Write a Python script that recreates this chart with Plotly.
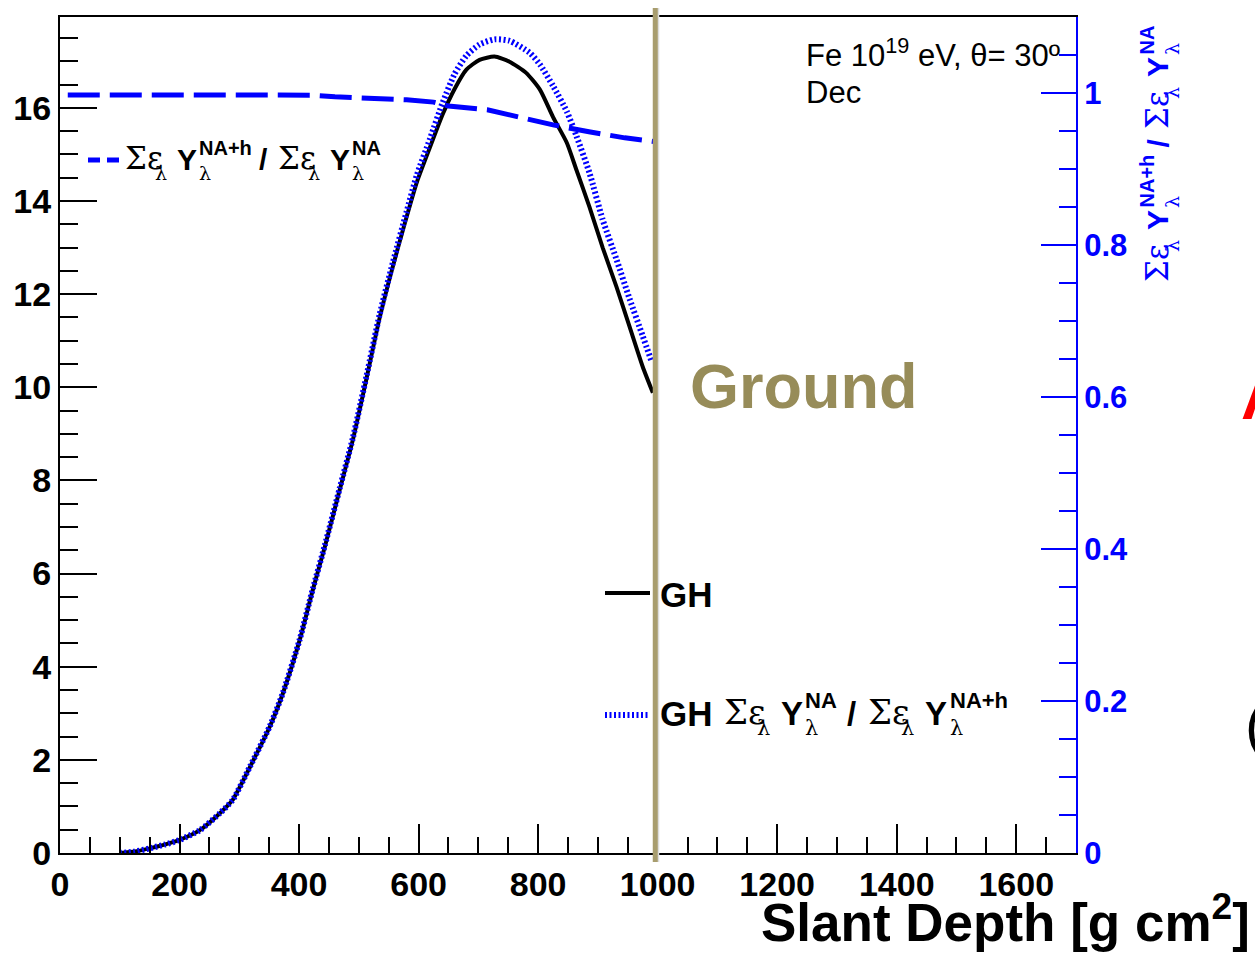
import plotly.graph_objects as go

# ---- data -------------------------------------------------------------
# Gaisser-Hillas longitudinal profile (left axis)
depth_gh = [100, 125, 150, 175, 200, 234, 268, 289, 318, 351, 373, 401, 423, 443,
            468, 490, 513, 535, 557, 580, 597, 619, 640, 660, 680, 702, 727, 752,
            780, 803, 825, 848, 864, 886, 908, 931, 953, 975, 992]
gh = [0.0, 0.03, 0.1, 0.18, 0.28, 0.49, 0.86, 1.14, 1.85, 2.71, 3.43, 4.57, 5.65, 6.57,
      7.8, 8.87, 10.2, 11.5, 12.6, 13.66, 14.4, 15.15, 15.85, 16.4, 16.82, 17.03, 17.1, 16.99,
      16.75, 16.39, 15.8, 15.25, 14.67, 13.87, 13.0, 12.16, 11.3, 10.44, 9.88]

# GH profile rescaled by the yield ratio (left axis)
depth_ghc = [100, 125, 150, 175, 200, 234, 268, 289, 318, 351, 373, 401, 423, 443,
             468, 490, 513, 535, 557, 580, 597, 619, 640, 660, 680, 702, 727, 752,
             786, 803, 825, 848, 864, 886, 908, 931, 953, 975, 990]
gh_corr = [0.0, 0.03, 0.1, 0.18, 0.28, 0.49, 0.86, 1.14, 1.86, 2.72, 3.44, 4.58, 5.67, 6.6,
           7.83, 8.91, 10.25, 11.57, 12.68, 13.77, 14.55, 15.33, 16.1, 16.72, 17.12, 17.36, 17.47, 17.44,
           17.18, 16.93, 16.47, 15.92, 15.4, 14.6, 13.6, 12.75, 11.9, 11.1, 10.55]

# yield ratio (right axis)
depth_ratio = [13, 100, 200, 300, 420, 460, 525, 580, 625, 650, 715, 770, 825, 885, 945, 996]
ratio = [0.9975, 0.9975, 0.9975, 0.9975, 0.9972, 0.995, 0.993, 0.991, 0.988, 0.983,
         0.978, 0.968, 0.958, 0.949, 0.941, 0.936]

x_ticks = [0, 200, 400, 600, 800, 1000, 1200, 1400, 1600]
ground_depth = 996

X_RANGE = [0, 1700]
Y_RANGE = [0, 17.95]
Y2_RANGE = [0, 1.1]

# ---- geometry ---------------------------------------------------------
FIG_W, FIG_H = 1255, 954
M_L, M_R, M_T, M_B = 60, 179, 17, 101
PW = FIG_W - M_L - M_R
PH = FIG_H - M_T - M_B

BLUE = "#0000FF"
OLIVE = "#978C59"
SANS = "Liberation Sans, Arial, sans-serif"
GREEK = "DejaVu Serif, Liberation Serif, serif"
DOTS = "2px,2.5px"


def px(x, y):
    """pixel position -> paper coordinates"""
    return (x - M_L) / PW, (FIG_H - M_B - y) / PH


annotations = []
shapes = []


def text(s, x, y, size, color="black", family=SANS, bold=False,
         xanchor="left", yanchor="middle", angle=0):
    xp, yp = px(x, y)
    annotations.append(dict(
        text=s, x=xp, y=yp, xref="paper", yref="paper", showarrow=False,
        xanchor=xanchor, yanchor=yanchor, textangle=angle,
        font=dict(size=size, color=color, family=family,
                  weight="bold" if bold else "normal"),
        borderpad=0,
    ))


def yield_term(sup, start):
    """pieces of  Σε_λ Y_λ^sup  as (text, offset, shift, size, family, bold)"""
    supw = {"NA+h": 57, "NA": 35}[sup]
    pieces = [
        ("Σε", start, -1, 31, GREEK, False),
        ("λ", start + 30, 14, 19, GREEK, False),
        ("Y", start + 52, 0, 30, SANS, True),
        (sup, start + 74, -11, 20, SANS, True),
        ("λ", start + 74, 14, 19, GREEK, False),
    ]
    return pieces, start + 74 + supw


def ratio_label(sup_a, sup_b):
    p1, end1 = yield_term(sup_a, 0)
    slash = [("/", end1 + 3, 0, 30, SANS, True)]
    p2, _ = yield_term(sup_b, end1 + 22)
    return p1 + slash + p2


def draw_label(x0, y0, sup_a, sup_b, s=1.0, color="black", vertical=False):
    for t, off, shift, size, fam, bold in ratio_label(sup_a, sup_b):
        if vertical:
            text(t, x0 + shift * s, y0 - off * s, size * s, color, fam, bold,
                 xanchor="center", yanchor="bottom", angle=-90)
        else:
            text(t, x0 + off * s, y0 + shift * s, size * s, color, fam, bold)


# ---- traces -----------------------------------------------------------
fig = go.Figure()

fig.add_trace(go.Scatter(
    x=depth_ratio, y=ratio, yaxis="y2", mode="lines",
    line=dict(color=BLUE, width=5, dash="32px,10px"),
    showlegend=False, hoverinfo="skip"))

fig.add_trace(go.Scatter(
    x=depth_gh, y=gh, mode="lines",
    line=dict(color="black", width=4, shape="spline", smoothing=0.6),
    showlegend=False, hoverinfo="skip"))

fig.add_trace(go.Scatter(
    x=depth_ghc, y=gh_corr, mode="lines",
    line=dict(color=BLUE, width=6, dash=DOTS, shape="spline", smoothing=0.6),
    showlegend=False, hoverinfo="skip"))

# ---- ground marker ----------------------------------------------------
gx = (ground_depth - X_RANGE[0]) / (X_RANGE[1] - X_RANGE[0])
_, gy0 = px(0, 862)
_, gy1 = px(0, 8)
shapes.append(dict(type="line", xref="paper", yref="paper",
                   x0=gx + 2.5 / PW, x1=gx + 2.5 / PW, y0=gy0, y1=gy1,
                   line=dict(color="#DCDCDC", width=3), layer="above"))
shapes.append(dict(type="line", xref="paper", yref="paper",
                   x0=gx, x1=gx, y0=gy0, y1=gy1,
                   line=dict(color="#A89D6E", width=5), layer="above"))
text("Ground", 689, 386, 63, OLIVE, SANS, True)

# ---- legend entries ---------------------------------------------------
for xa, xb in [(88, 100), (107, 119)]:
    a, b = px(xa, 160), px(xb, 160)
    shapes.append(dict(type="line", xref="paper", yref="paper",
                       x0=a[0], x1=b[0], y0=a[1], y1=b[1],
                       line=dict(color=BLUE, width=5)))
draw_label(124, 159, "NA+h", "NA")

a, b = px(605, 593), px(650, 593)
shapes.append(dict(type="line", xref="paper", yref="paper",
                   x0=a[0], x1=b[0], y0=a[1], y1=b[1],
                   line=dict(color="black", width=4)))
text("GH", 659, 594, 35, bold=True)

a, b = px(605, 715), px(648, 715)
shapes.append(dict(type="line", xref="paper", yref="paper",
                   x0=a[0], x1=b[0], y0=a[1], y1=b[1],
                   line=dict(color=BLUE, width=6, dash=DOTS)))
text("GH", 659, 713, 35, bold=True)
draw_label(723, 713, "NA", "NA+h", s=1.1)

# right axis title
draw_label(1158, 283, "NA+h", "NA", color=BLUE, vertical=True)

# ---- other labels -----------------------------------------------------
text("Fe 10<sup>19</sup> eV, θ= 30º", 805, 53, 31)
text("Dec", 805, 92, 31)
text("Slant Depth [g cm<sup>2</sup>]", 1251, 918, 53, bold=True, xanchor="right")
text("A", 1240, 398, 62, "#FF0000", SANS, True)
text("(", 1244, 725, 60)

# ---- layout -----------------------------------------------------------
fig.update_layout(
    width=FIG_W, height=FIG_H,
    margin=dict(l=M_L, r=M_R, t=M_T, b=M_B, pad=0),
    paper_bgcolor="white", plot_bgcolor="white",
    showlegend=False,
    xaxis=dict(range=X_RANGE, tickvals=x_ticks, showgrid=False, zeroline=False,
               showline=True, linecolor="black", linewidth=2, mirror=True,
               ticks="inside", ticklen=29, tickwidth=1.5, tickcolor="black",
               minor=dict(dtick=50, tick0=0, ticks="inside", ticklen=16,
                          tickwidth=1.5, tickcolor="black", showgrid=False),
               tickfont=dict(family=SANS, size=34, color="black", weight="bold")),
    yaxis=dict(range=Y_RANGE, dtick=2, tick0=0, showgrid=False, zeroline=False,
               showline=True, linecolor="black", linewidth=2,
               ticks="inside", ticklen=37, tickwidth=1.5, tickcolor="black",
               minor=dict(dtick=0.5, tick0=0, ticks="inside", ticklen=18,
                          tickwidth=1.5, tickcolor="black", showgrid=False),
               tickfont=dict(family=SANS, size=34, color="black", weight="bold")),
    yaxis2=dict(range=Y2_RANGE, dtick=0.2, tick0=0, overlaying="y", side="right",
                showgrid=False, zeroline=False,
                showline=True, linecolor=BLUE, linewidth=2,
                ticks="inside", ticklen=35, tickwidth=1.5, tickcolor=BLUE,
                minor=dict(dtick=0.05, tick0=0, ticks="inside", ticklen=17,
                           tickwidth=1.5, tickcolor=BLUE, showgrid=False),
                tickfont=dict(family=SANS, size=31, color=BLUE, weight="bold")),
    annotations=annotations,
    shapes=shapes,
)

fig.write_html("out.html")
